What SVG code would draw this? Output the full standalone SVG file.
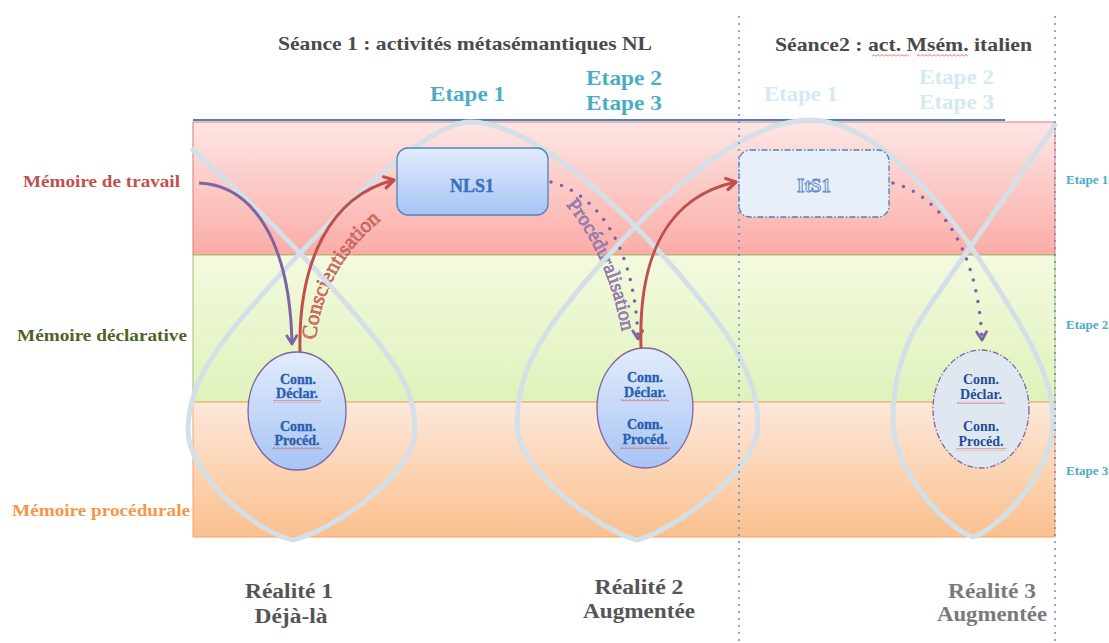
<svg xmlns="http://www.w3.org/2000/svg" width="1109" height="643" viewBox="0 0 1109 643">
<style>
.t{font-family:"Liberation Serif","DejaVu Serif",serif;font-weight:bold}
.ttl{fill:#4a4a4a;font-size:19px}
.etp{fill:#4bacc6;font-size:21px}
.etpf{fill:#d3eaf1;font-size:21px}
.etps{fill:#4bacc6;font-size:13px}
.real{fill:#555555;font-size:20px;text-anchor:middle}
.oc{fill:#2a5eae;font-size:14px;text-anchor:middle;stroke:#2a5eae;stroke-width:0.3}
.curve{fill:none;stroke:#d3e0e7;stroke-width:5;stroke-linejoin:round;stroke-linecap:round}
.dots{fill:none;stroke:#7a62a8;stroke-width:3.5;stroke-dasharray:0 11;stroke-linecap:round}
.vdots{stroke:#5b8fd0;stroke-width:2;stroke-dasharray:0 7;stroke-linecap:round}
</style>
<defs>
<linearGradient id="gR" x1="0" y1="0" x2="0" y2="1"><stop offset="0" stop-color="#fde6e4"/><stop offset="1" stop-color="#fbaca7"/></linearGradient>
<linearGradient id="gG" x1="0" y1="0" x2="0" y2="1"><stop offset="0" stop-color="#f3fadf"/><stop offset="1" stop-color="#e0f2bb"/></linearGradient>
<linearGradient id="gO" x1="0" y1="0" x2="0" y2="1"><stop offset="0" stop-color="#fde8da"/><stop offset="1" stop-color="#fbc08e"/></linearGradient>
<linearGradient id="gB" x1="0" y1="0" x2="0" y2="1"><stop offset="0" stop-color="#e2ecfd"/><stop offset="1" stop-color="#a7c4f4"/></linearGradient>
<pattern id="sq" width="4" height="3" patternUnits="userSpaceOnUse"><path d="M0,2.5 L2,0.5 L4,2.5" fill="none" stroke="#e0403a" stroke-width="0.8"/></pattern>
<marker id="ahP" viewBox="0 0 12 12" refX="9.5" refY="6" markerWidth="13" markerHeight="13" markerUnits="userSpaceOnUse" orient="auto"><path d="M2,1.5 L9.5,6 L2,10.5" fill="none" stroke="#8064a2" stroke-width="2.6" stroke-linecap="round" stroke-linejoin="round"/></marker>
<marker id="ahR" viewBox="0 0 12 12" refX="9.5" refY="6" markerWidth="15" markerHeight="15" markerUnits="userSpaceOnUse" orient="auto"><path d="M2,1.5 L9.5,6 L2,10.5" fill="none" stroke="#c0504d" stroke-width="2.6" stroke-linecap="round" stroke-linejoin="round"/></marker>
<path id="pConsc" d="M316,340 C320,292 345,245 394,210"/>
<path id="pProc" d="M566,205 C596,240 618,292 626,358"/>
</defs>

<rect width="1109" height="643" fill="#ffffff"/>

<g id="bands">
<rect x="193" y="122" width="862" height="133" fill="url(#gR)" stroke="#de7a72" stroke-width="1"/>
<rect x="193" y="255" width="862" height="147" fill="url(#gG)" stroke="#a7bf6e" stroke-width="1"/>
<rect x="193" y="402" width="862" height="135" fill="url(#gO)" stroke="#f2a468" stroke-width="1"/>
<line x1="193" y1="120" x2="1005" y2="120" stroke="#4f81bd" stroke-width="2"/>
</g>

<g id="labels">
<text class="t ttl" x="278" y="50" textLength="374" lengthAdjust="spacingAndGlyphs">Séance 1 : activités métasémantiques NL</text>
<text class="t ttl" x="775" y="51" textLength="257" lengthAdjust="spacingAndGlyphs">Séance2 : act. Msém. italien</text>
<rect x="872" y="54" width="37" height="3" fill="url(#sq)"/>
<rect x="917" y="54" width="51" height="3" fill="url(#sq)"/>
<text class="t etp" x="430" y="101" textLength="75" lengthAdjust="spacingAndGlyphs">Etape 1</text>
<text class="t etp" x="586" y="85" textLength="76" lengthAdjust="spacingAndGlyphs">Etape 2</text>
<text class="t etp" x="586" y="110" textLength="76" lengthAdjust="spacingAndGlyphs">Etape 3</text>
<text class="t etpf" x="764" y="101" textLength="74" lengthAdjust="spacingAndGlyphs">Etape 1</text>
<text class="t etpf" x="919" y="84" textLength="75" lengthAdjust="spacingAndGlyphs">Etape 2</text>
<text class="t etpf" x="919" y="109" textLength="75" lengthAdjust="spacingAndGlyphs">Etape 3</text>
<text class="t" x="23" y="187" font-size="17" fill="#c0504d" textLength="157" lengthAdjust="spacingAndGlyphs">Mémoire de travail</text>
<text class="t" x="17" y="341" font-size="17" fill="#4f6228" textLength="170" lengthAdjust="spacingAndGlyphs">Mémoire déclarative</text>
<text class="t" x="12" y="516" font-size="17" fill="#f79646" textLength="178" lengthAdjust="spacingAndGlyphs">Mémoire procédurale</text>
<text class="t etps" x="1066" y="184">Etape 1</text>
<text class="t etps" x="1066" y="329">Etape 2</text>
<text class="t etps" x="1066" y="475">Etape 3</text>
<text class="t real" x="289" y="598" textLength="88" lengthAdjust="spacingAndGlyphs">Réalité 1</text>
<text class="t real" x="291" y="623" textLength="73" lengthAdjust="spacingAndGlyphs">Déjà-là</text>
<text class="t real" x="639" y="594" textLength="89" lengthAdjust="spacingAndGlyphs">Réalité 2</text>
<text class="t real" x="639" y="618" textLength="112" lengthAdjust="spacingAndGlyphs">Augmentée</text>
<text class="t real" x="992" y="598" style="fill:#7a7a7a" textLength="88" lengthAdjust="spacingAndGlyphs">Réalité 3</text>
<text class="t real" x="992" y="621" style="fill:#7a7a7a" textLength="110" lengthAdjust="spacingAndGlyphs">Augmentée</text>
</g>

<g id="arrow-labels">
<text font-family="Liberation Serif, DejaVu Serif, serif" font-size="21" fill="#dc7b74" stroke="#c0504d" stroke-width="0.6"><textPath href="#pConsc">Conscientisation</textPath></text>
<text font-family="Liberation Serif, DejaVu Serif, serif" font-size="20" fill="#a58fc2" stroke="#8064a2" stroke-width="0.6"><textPath href="#pProc">Procéduralisation</textPath></text>
</g>

<g id="curve">
<path class="curve" d="M193,150 C250,200 330,280 380,345 C405,377 415,400 415,430 C415,475 330,532 293,540 C256,532 188,475 188,430 C188,395 205,365 228,335 C251,305 410,122 470,122 C540,122 650,232 720,325 C745,360 758,392 758,425 C758,472 670,532 637,540 C604,532 517,472 517,425 C517,385 530,355 555,320 C600,260 720,120 810,120 C870,120 935,190 985,268 C1015,315 1053,370 1053,420 C1053,472 1000,528 973,537 C946,528 893,472 893,420 C893,375 905,340 930,305 L1055,125"/>
</g>

<g id="connectors">
<path d="M199,183 C252,185 290,240 292,344" fill="none" stroke="#8064a2" stroke-width="3" marker-end="url(#ahP)"/>
<path d="M300,352 C298,262 330,196 394,180" fill="none" stroke="#c0504d" stroke-width="3" marker-end="url(#ahR)"/>
<path class="dots" d="M551,182 C600,195 635,250 638,339" marker-end="url(#ahP)"/>
<path d="M641,348 C638,252 670,196 736,182" fill="none" stroke="#c0504d" stroke-width="3" marker-end="url(#ahR)"/>
<path class="dots" d="M893,183 C940,195 978,250 982,340" marker-end="url(#ahP)"/>
</g>

<g id="NLS1">
<rect x="397" y="148" width="151" height="67" rx="11" fill="url(#gB)" stroke="#4f81bd" stroke-width="1.3"/>
<text class="t" x="472" y="192" font-size="18" text-anchor="middle" fill="#3c6fc0" stroke="#3c6fc0" stroke-width="0.4">NLS1</text>
</g>

<g id="ItS1">
<rect x="739" y="150" width="150" height="67" rx="11" fill="#e7eff9" stroke="#4f81bd" stroke-width="1.3" stroke-dasharray="6 2 1.5 2"/>
<text class="t" x="814" y="192" font-size="19" text-anchor="middle" fill="#dbe6f6" stroke="#5b86c8" stroke-width="0.9">ItS1</text>
</g>

<g id="oval1">
<ellipse cx="297" cy="411" rx="49" ry="59" fill="url(#gB)" stroke="#8064a2" stroke-width="1.3"/>
<text class="t oc" x="298" y="384">Conn.</text>
<text class="t oc" x="297" y="398">Déclar.</text>
<rect x="273" y="400" width="48" height="3" fill="url(#sq)"/>
<text class="t oc" x="298" y="431">Conn.</text>
<text class="t oc" x="297" y="445">Procéd.</text>
<rect x="272" y="447" width="50" height="3" fill="url(#sq)"/>
</g>

<g id="oval2">
<ellipse cx="645" cy="408" rx="48" ry="60" fill="url(#gB)" stroke="#8064a2" stroke-width="1.3"/>
<text class="t oc" x="645" y="382">Conn.</text>
<text class="t oc" x="645" y="397">Déclar.</text>
<rect x="621" y="399" width="48" height="3" fill="url(#sq)"/>
<text class="t oc" x="645" y="429">Conn.</text>
<text class="t oc" x="645" y="444">Procéd.</text>
<rect x="620" y="446" width="50" height="3" fill="url(#sq)"/>
</g>

<g id="oval3">
<ellipse cx="981" cy="409" rx="48" ry="59" fill="#dfe8f1" stroke="#8064a2" stroke-width="1.3" stroke-dasharray="6 2 1.5 2"/>
<text class="t oc" x="981" y="384" style="fill:#1f4e9a;stroke:none">Conn.</text>
<text class="t oc" x="981" y="399" style="fill:#1f4e9a;stroke:none">Déclar.</text>
<rect x="957" y="401" width="48" height="3" fill="url(#sq)"/>
<text class="t oc" x="981" y="431" style="fill:#1f4e9a;stroke:none">Conn.</text>
<text class="t oc" x="981" y="446" style="fill:#1f4e9a;stroke:none">Procéd.</text>
<rect x="956" y="448" width="50" height="3" fill="url(#sq)"/>
</g>

<g id="dividers">
<line class="vdots" x1="739" y1="17" x2="739" y2="643"/>
<line class="vdots" x1="1055" y1="17" x2="1055" y2="643"/>
</g>
</svg>
